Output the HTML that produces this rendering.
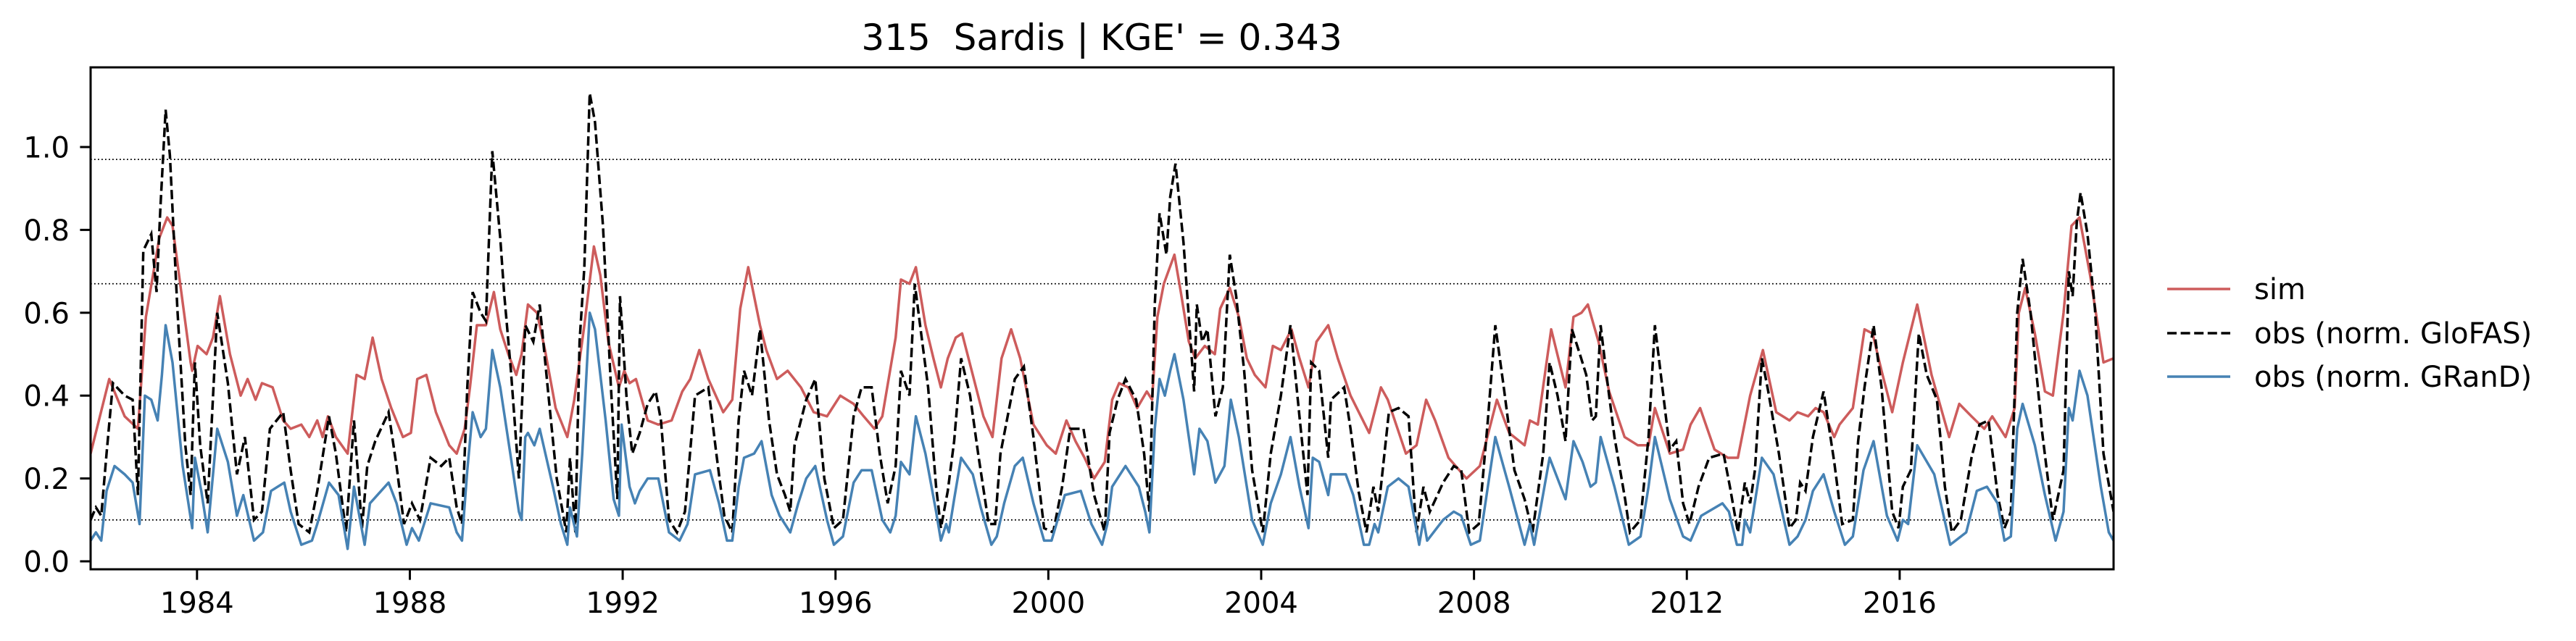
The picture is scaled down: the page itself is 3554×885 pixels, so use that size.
<!DOCTYPE html>
<html><head><meta charset="utf-8"><style>
html,body{margin:0;padding:0;background:#fff;}
svg{display:block;font-family:"DejaVu Sans","Liberation Sans",sans-serif;}
</style></head><body>
<svg id="chart" width="3554" height="885" viewBox="0 0 3554 885" xmlns="http://www.w3.org/2000/svg">
<defs><clipPath id="plotclip"><rect x="125" y="93" width="2791" height="693"/></clipPath></defs>
<text x="1520" y="69" font-size="50" text-anchor="middle">315&#160; Sardis | KGE' = 0.343</text>
<g id="grid"></g>
<g id="series" clip-path="url(#plotclip)"></g>
<rect x="125" y="93" width="2791" height="693" fill="none" stroke="#000" stroke-width="3"/>
<g id="yaxis"></g>
<g id="xaxis"></g>
<g>
<line x1="2990" y1="399" x2="3077" y2="399" stroke="#cd5c5c" stroke-width="3.5"/>
<text x="3110" y="413" font-size="40">sim</text>
<line x1="2990" y1="460" x2="3077" y2="460" stroke="#000" stroke-width="3.5" stroke-dasharray="13,5.6"/>
<text x="3110" y="474" font-size="40">obs (norm. GloFAS)</text>
<line x1="2990" y1="520" x2="3077" y2="520" stroke="#4682b4" stroke-width="3.5"/>
<text x="3110" y="534" font-size="40">obs (norm. GRanD)</text>
</g>
</svg>
<script>
const yTicks=[0.0,0.2,0.4,0.6,0.8,1.0];
const xTicks=[1984,1988,1992,1996,2000,2004,2008,2012,2016];
const refLines=[0.97,0.67,0.10];
const simT=[1982.00,1982.35,1982.64,1982.89,1983.04,1983.29,1983.44,1983.54,1983.88,1983.91,1984.01,1984.18,1984.30,1984.43,1984.62,1984.82,1984.95,1985.10,1985.22,1985.42,1985.62,1985.76,1985.96,1986.11,1986.26,1986.36,1986.46,1986.61,1986.83,1987.00,1987.15,1987.30,1987.47,1987.65,1987.87,1988.02,1988.14,1988.31,1988.49,1988.74,1988.88,1989.03,1989.13,1989.26,1989.43,1989.58,1989.70,1989.85,1990.00,1990.10,1990.22,1990.39,1990.54,1990.74,1990.96,1991.09,1991.28,1991.46,1991.58,1991.73,1991.93,1992.03,1992.13,1992.25,1992.47,1992.67,1992.92,1993.12,1993.27,1993.44,1993.61,1993.89,1994.06,1994.21,1994.36,1994.58,1994.70,1994.90,1995.10,1995.35,1995.59,1995.84,1996.09,1996.34,1996.53,1996.73,1996.88,1997.13,1997.23,1997.39,1997.51,1997.69,1997.84,1997.98,1998.11,1998.26,1998.38,1998.58,1998.78,1998.95,1999.12,1999.30,1999.47,1999.72,1999.97,2000.14,2000.34,2000.51,2000.68,2000.86,2001.06,2001.20,2001.33,2001.50,2001.67,2001.85,2001.95,2002.05,2002.17,2002.37,2002.49,2002.64,2002.76,2002.94,2003.13,2003.23,2003.41,2003.58,2003.73,2003.88,2004.08,2004.22,2004.37,2004.57,2004.72,2004.89,2005.04,2005.26,2005.44,2005.68,2006.03,2006.25,2006.38,2006.72,2006.92,2007.10,2007.27,2007.52,2007.86,2008.11,2008.43,2008.66,2008.95,2009.05,2009.20,2009.45,2009.72,2009.87,2010.02,2010.14,2010.34,2010.54,2010.83,2011.08,2011.28,2011.40,2011.68,2011.93,2012.07,2012.25,2012.52,2012.77,2012.96,2013.19,2013.43,2013.68,2013.93,2014.08,2014.28,2014.42,2014.57,2014.77,2014.87,2015.12,2015.34,2015.49,2015.66,2015.86,2016.06,2016.33,2016.60,2016.93,2017.12,2017.35,2017.59,2017.74,2017.99,2018.16,2018.24,2018.36,2018.54,2018.73,2018.88,2019.08,2019.23,2019.38,2019.58,2019.83,2020.02];
const simV=[0.26,0.44,0.35,0.32,0.59,0.78,0.83,0.81,0.48,0.46,0.52,0.50,0.54,0.64,0.50,0.40,0.44,0.39,0.43,0.42,0.34,0.32,0.33,0.30,0.34,0.30,0.35,0.30,0.26,0.45,0.44,0.54,0.44,0.37,0.30,0.31,0.44,0.45,0.36,0.28,0.26,0.32,0.42,0.57,0.57,0.65,0.56,0.50,0.45,0.50,0.62,0.60,0.51,0.37,0.30,0.39,0.57,0.76,0.69,0.53,0.42,0.46,0.43,0.44,0.34,0.33,0.34,0.41,0.44,0.51,0.44,0.36,0.39,0.61,0.71,0.57,0.51,0.44,0.46,0.42,0.36,0.35,0.40,0.38,0.35,0.32,0.35,0.54,0.68,0.67,0.71,0.57,0.49,0.42,0.49,0.54,0.55,0.45,0.35,0.30,0.49,0.56,0.49,0.33,0.28,0.26,0.34,0.29,0.25,0.20,0.24,0.39,0.43,0.42,0.37,0.41,0.39,0.59,0.67,0.74,0.65,0.53,0.49,0.52,0.50,0.61,0.66,0.59,0.49,0.45,0.42,0.52,0.51,0.56,0.49,0.42,0.53,0.57,0.49,0.40,0.31,0.42,0.39,0.26,0.28,0.39,0.34,0.25,0.20,0.23,0.39,0.31,0.28,0.34,0.33,0.56,0.42,0.59,0.60,0.62,0.53,0.41,0.30,0.28,0.28,0.37,0.26,0.27,0.33,0.37,0.27,0.25,0.25,0.40,0.51,0.36,0.34,0.36,0.35,0.37,0.36,0.30,0.33,0.37,0.56,0.55,0.46,0.36,0.48,0.62,0.45,0.30,0.38,0.35,0.32,0.35,0.30,0.37,0.60,0.66,0.55,0.41,0.40,0.60,0.81,0.83,0.69,0.48,0.49];
const gloT=[1982.00,1982.10,1982.20,1982.30,1982.42,1982.64,1982.79,1982.89,1982.99,1983.14,1983.24,1983.31,1983.41,1983.49,1983.63,1983.78,1983.88,1983.96,1984.06,1984.20,1984.38,1984.58,1984.75,1984.90,1985.07,1985.22,1985.37,1985.62,1985.76,1985.91,1986.11,1986.26,1986.48,1986.61,1986.80,1986.95,1987.10,1987.20,1987.35,1987.60,1987.75,1987.89,1988.04,1988.19,1988.39,1988.59,1988.74,1988.88,1988.98,1989.08,1989.18,1989.33,1989.43,1989.55,1989.70,1989.77,1989.90,1990.05,1990.17,1990.32,1990.44,1990.59,1990.76,1990.94,1991.01,1991.11,1991.19,1991.28,1991.38,1991.48,1991.63,1991.78,1991.90,1991.95,1992.08,1992.18,1992.32,1992.47,1992.62,1992.72,1992.87,1993.02,1993.17,1993.36,1993.61,1993.76,1993.91,1994.06,1994.18,1994.28,1994.43,1994.58,1994.75,1994.90,1995.05,1995.15,1995.23,1995.45,1995.62,1995.79,1995.97,1996.14,1996.34,1996.49,1996.68,1996.83,1996.98,1997.13,1997.23,1997.39,1997.49,1997.59,1997.74,1997.89,1997.98,1998.11,1998.23,1998.36,1998.53,1998.68,1998.88,1999.00,1999.10,1999.22,1999.37,1999.54,1999.72,1999.92,2000.09,2000.26,2000.41,2000.66,2000.86,2001.06,2001.15,2001.30,2001.45,2001.65,2001.80,2001.90,2002.00,2002.09,2002.22,2002.29,2002.39,2002.54,2002.74,2002.79,2002.89,2002.99,2003.14,2003.28,2003.41,2003.53,2003.68,2003.83,2004.03,2004.18,2004.37,2004.55,2004.72,2004.87,2004.94,2005.09,2005.26,2005.31,2005.56,2005.68,2005.83,2005.98,2006.11,2006.20,2006.40,2006.58,2006.77,2006.92,2007.05,2007.17,2007.42,2007.62,2007.76,2007.91,2008.09,2008.26,2008.40,2008.56,2008.76,2008.95,2009.10,2009.30,2009.42,2009.57,2009.72,2009.84,2009.99,2010.11,2010.22,2010.29,2010.38,2010.49,2010.64,2010.84,2010.93,2011.13,2011.28,2011.40,2011.53,2011.68,2011.80,2011.93,2012.05,2012.22,2012.42,2012.69,2012.81,2012.96,2013.09,2013.19,2013.28,2013.41,2013.53,2013.73,2013.93,2014.05,2014.13,2014.23,2014.37,2014.57,2014.77,2014.92,2015.12,2015.22,2015.34,2015.51,2015.66,2015.86,2015.98,2016.06,2016.21,2016.36,2016.51,2016.70,2016.85,2016.98,2017.15,2017.35,2017.50,2017.67,2017.84,2017.97,2018.09,2018.21,2018.31,2018.46,2018.68,2018.88,2018.98,2019.08,2019.18,2019.25,2019.33,2019.40,2019.53,2019.67,2019.83,2020.02];
const gloV=[0.10,0.13,0.11,0.26,0.43,0.40,0.39,0.16,0.75,0.79,0.65,0.85,1.09,0.98,0.61,0.28,0.16,0.48,0.28,0.14,0.60,0.43,0.21,0.30,0.10,0.12,0.32,0.36,0.22,0.09,0.07,0.17,0.35,0.26,0.07,0.34,0.08,0.23,0.29,0.36,0.23,0.09,0.14,0.10,0.25,0.23,0.25,0.13,0.09,0.42,0.65,0.60,0.58,0.99,0.78,0.65,0.46,0.20,0.57,0.53,0.62,0.42,0.20,0.07,0.25,0.07,0.53,0.71,1.13,1.06,0.81,0.42,0.15,0.64,0.38,0.26,0.31,0.38,0.41,0.34,0.10,0.07,0.12,0.40,0.42,0.26,0.11,0.07,0.34,0.46,0.40,0.56,0.34,0.21,0.16,0.12,0.28,0.39,0.44,0.20,0.08,0.10,0.35,0.42,0.42,0.26,0.14,0.23,0.46,0.40,0.67,0.57,0.42,0.18,0.08,0.17,0.29,0.49,0.40,0.26,0.09,0.09,0.26,0.34,0.44,0.47,0.30,0.08,0.07,0.18,0.32,0.32,0.16,0.07,0.31,0.39,0.44,0.39,0.26,0.12,0.62,0.84,0.74,0.88,0.96,0.77,0.41,0.62,0.53,0.56,0.35,0.42,0.74,0.64,0.46,0.22,0.07,0.26,0.40,0.57,0.35,0.16,0.48,0.46,0.25,0.39,0.42,0.32,0.17,0.07,0.18,0.12,0.36,0.37,0.35,0.07,0.18,0.12,0.19,0.23,0.22,0.07,0.09,0.34,0.57,0.42,0.22,0.15,0.07,0.26,0.48,0.40,0.29,0.56,0.50,0.45,0.34,0.35,0.57,0.45,0.30,0.15,0.07,0.10,0.30,0.57,0.43,0.27,0.29,0.14,0.09,0.18,0.25,0.26,0.18,0.07,0.19,0.14,0.22,0.49,0.41,0.26,0.08,0.10,0.19,0.17,0.30,0.41,0.24,0.09,0.10,0.29,0.42,0.57,0.42,0.12,0.08,0.18,0.22,0.55,0.45,0.39,0.18,0.07,0.10,0.25,0.33,0.34,0.16,0.08,0.12,0.60,0.73,0.60,0.31,0.10,0.16,0.22,0.70,0.64,0.82,0.89,0.79,0.61,0.26,0.12];
const grdT=[1982.00,1982.10,1982.20,1982.30,1982.45,1982.64,1982.79,1982.92,1983.02,1983.14,1983.26,1983.34,1983.41,1983.54,1983.73,1983.91,1983.96,1984.08,1984.20,1984.38,1984.58,1984.75,1984.87,1985.07,1985.24,1985.39,1985.64,1985.76,1985.96,1986.16,1986.26,1986.48,1986.66,1986.83,1986.95,1987.15,1987.25,1987.60,1987.75,1987.94,1988.04,1988.17,1988.39,1988.74,1988.88,1988.98,1989.08,1989.18,1989.33,1989.43,1989.55,1989.70,1989.90,1990.05,1990.10,1990.17,1990.22,1990.34,1990.44,1990.69,1990.84,1990.96,1991.01,1991.14,1991.24,1991.38,1991.48,1991.68,1991.83,1991.93,1991.98,1992.13,1992.23,1992.32,1992.47,1992.67,1992.87,1993.07,1993.22,1993.36,1993.64,1993.81,1993.96,1994.06,1994.18,1994.28,1994.47,1994.61,1994.80,1994.95,1995.15,1995.30,1995.45,1995.62,1995.84,1995.97,1996.14,1996.34,1996.49,1996.68,1996.88,1997.03,1997.13,1997.23,1997.39,1997.51,1997.69,1997.89,1997.98,1998.08,1998.13,1998.23,1998.36,1998.58,1998.73,1998.93,1999.03,1999.17,1999.37,1999.52,1999.72,1999.92,2000.06,2000.31,2000.61,2000.81,2001.01,2001.11,2001.20,2001.45,2001.70,2001.82,2001.90,2002.00,2002.09,2002.19,2002.29,2002.37,2002.54,2002.74,2002.84,2002.99,2003.14,2003.31,2003.43,2003.58,2003.83,2004.03,2004.18,2004.37,2004.55,2004.72,2004.89,2004.97,2005.09,2005.26,2005.31,2005.59,2005.73,2005.93,2006.03,2006.13,2006.20,2006.38,2006.58,2006.77,2006.97,2007.05,2007.12,2007.42,2007.62,2007.76,2007.94,2008.11,2008.26,2008.40,2008.66,2008.95,2009.05,2009.13,2009.42,2009.72,2009.87,2010.04,2010.19,2010.29,2010.38,2010.64,2010.91,2011.13,2011.28,2011.40,2011.68,2011.93,2012.07,2012.27,2012.67,2012.79,2012.94,2013.04,2013.09,2013.19,2013.41,2013.63,2013.93,2014.08,2014.23,2014.37,2014.57,2014.77,2014.97,2015.12,2015.32,2015.51,2015.76,2015.96,2016.06,2016.16,2016.33,2016.65,2016.95,2017.25,2017.45,2017.64,2017.84,2017.97,2018.09,2018.21,2018.31,2018.54,2018.73,2018.93,2019.08,2019.18,2019.25,2019.38,2019.53,2019.78,2019.93,2020.02];
const grdV=[0.05,0.07,0.05,0.17,0.23,0.21,0.19,0.09,0.40,0.39,0.34,0.45,0.57,0.48,0.23,0.08,0.25,0.17,0.07,0.32,0.24,0.11,0.16,0.05,0.07,0.17,0.19,0.12,0.04,0.05,0.09,0.19,0.16,0.03,0.18,0.04,0.14,0.19,0.14,0.04,0.08,0.05,0.14,0.13,0.07,0.05,0.22,0.36,0.30,0.32,0.51,0.42,0.25,0.12,0.10,0.30,0.31,0.28,0.32,0.18,0.09,0.04,0.13,0.06,0.26,0.60,0.56,0.34,0.15,0.11,0.33,0.18,0.14,0.17,0.20,0.20,0.07,0.05,0.09,0.21,0.22,0.14,0.05,0.05,0.18,0.25,0.26,0.29,0.16,0.11,0.07,0.14,0.20,0.23,0.10,0.04,0.06,0.19,0.22,0.22,0.10,0.07,0.11,0.24,0.21,0.35,0.26,0.12,0.05,0.09,0.07,0.15,0.25,0.21,0.13,0.04,0.06,0.14,0.23,0.25,0.14,0.05,0.05,0.16,0.17,0.09,0.04,0.09,0.18,0.23,0.18,0.12,0.07,0.32,0.44,0.40,0.46,0.50,0.39,0.21,0.32,0.29,0.19,0.23,0.39,0.30,0.10,0.04,0.14,0.21,0.30,0.18,0.08,0.25,0.24,0.16,0.21,0.21,0.16,0.04,0.04,0.09,0.07,0.18,0.20,0.18,0.04,0.10,0.05,0.10,0.12,0.11,0.04,0.05,0.18,0.30,0.18,0.04,0.09,0.04,0.25,0.15,0.29,0.24,0.18,0.19,0.30,0.18,0.04,0.06,0.18,0.30,0.15,0.06,0.05,0.11,0.14,0.12,0.04,0.04,0.10,0.07,0.25,0.21,0.04,0.06,0.10,0.17,0.21,0.12,0.04,0.06,0.22,0.29,0.11,0.05,0.10,0.09,0.28,0.21,0.04,0.07,0.17,0.18,0.14,0.05,0.06,0.32,0.38,0.28,0.16,0.05,0.12,0.37,0.34,0.46,0.40,0.18,0.07,0.05];

const NS='http://www.w3.org/2000/svg';
const X0=125,X1=2916,Y0=93,Y1=786,T0=1982.0,T1=2020.02;
function xs(t){return X0+(t-T0)/(T1-T0)*(X1-X0);}
function ys(v){return 775-v*572;}
function mk(tag,attrs,parent){const e=document.createElementNS(NS,tag);for(const k in attrs)e.setAttribute(k,attrs[k]);parent.appendChild(e);return e;}

const grid=document.getElementById('grid');
refLines.forEach(v=>{
  const l=mk('line',{x1:X0,x2:X1,y1:ys(v),y2:ys(v),stroke:'#000','stroke-width':1.8,'stroke-dasharray':'1.8,3.2'},grid);
  
  
});

const ya=document.getElementById('yaxis');
yTicks.forEach(v=>{
  const y=ys(v);
  const t=mk('line',{x1:X0-14.6,x2:X0,y1:y,y2:y,stroke:'#000','stroke-width':3},ya);
  
  
  const lb=mk('text',{x:96,y:y+14.5,'font-size':40,'text-anchor':'end'},ya);
  lb.textContent=v.toFixed(1);
  
  
});
const xa=document.getElementById('xaxis');
xTicks.forEach(yr=>{
  const x=xs(yr);
  const t=mk('line',{x1:x,x2:x,y1:Y1,y2:Y1+14.6,stroke:'#000','stroke-width':3},xa);
  
  
  const lb=mk('text',{x:x,y:846,'font-size':40,'text-anchor':'middle'},xa);
  lb.textContent=String(yr);
  
  
});

const sg=document.getElementById('series');
function path(T,V){return T.map((t,i)=>(i?'L':'M')+xs(t).toFixed(1)+','+ys(V[i]).toFixed(1)).join('');}
const pSim=mk('path',{d:path(simT,simV),fill:'none',stroke:'#cd5c5c','stroke-width':3.5,'stroke-linejoin':'round'},sg);


const pGlo=mk('path',{d:path(gloT,gloV),fill:'none',stroke:'#000','stroke-width':3.5,'stroke-dasharray':'13,5.6'},sg);


const pGrd=mk('path',{d:path(grdT,grdV),fill:'none',stroke:'#4682b4','stroke-width':3.5,'stroke-linejoin':'round'},sg);


</script>
</body></html>
